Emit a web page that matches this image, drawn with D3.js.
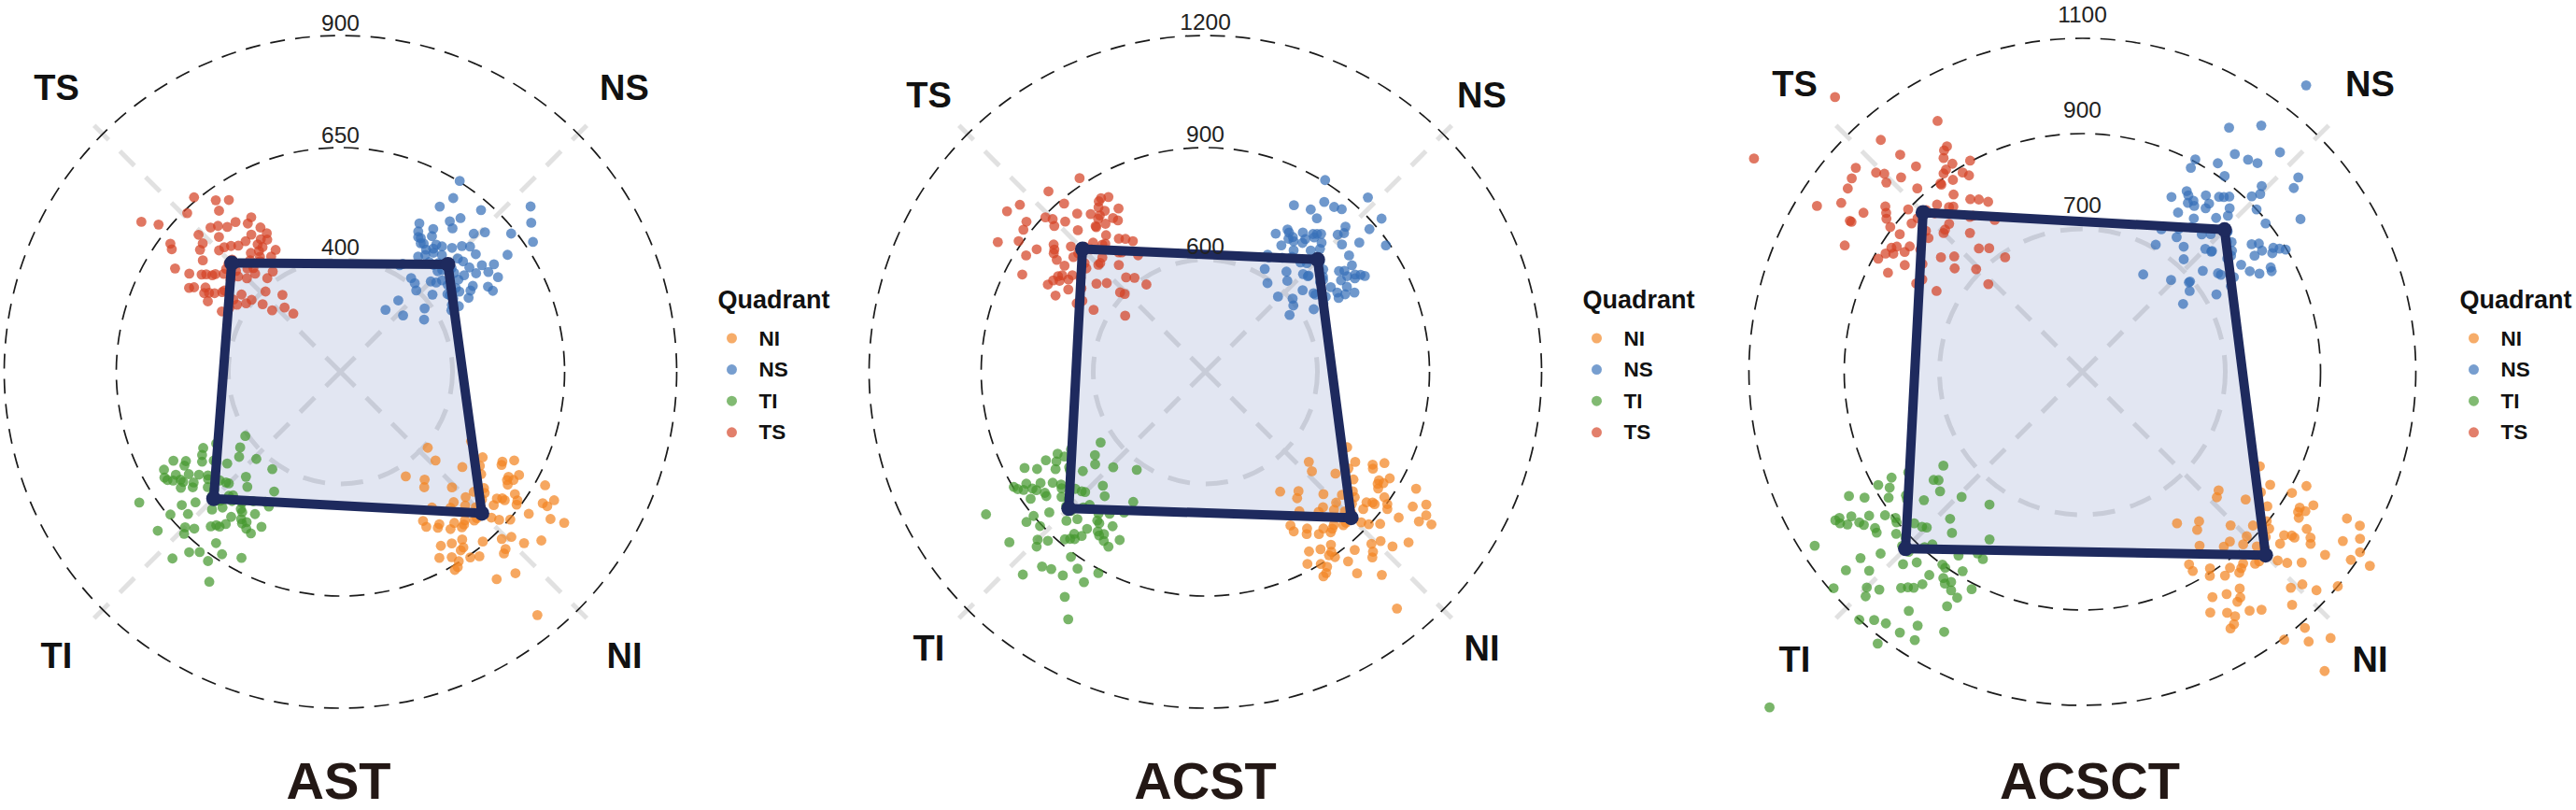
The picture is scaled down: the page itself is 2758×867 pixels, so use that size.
<!DOCTYPE html>
<html><head><meta charset="utf-8">
<script src="https://cdn.jsdelivr.net/npm/d3@7"></script>
<style>
html,body{margin:0;padding:0;background:#fff;}
svg{display:block;font-family:"Liberation Sans", Arial, Helvetica, sans-serif;}
</style></head><body>
<svg id="chart" width="2758" height="867"></svg>
<script>
// ---------- DATA ----------
const quadrants = ["NI", "NS", "TI", "TS"];
const panelTitles = ["AST", "ACST", "ACSCT"];
const legendTitle = "Quadrant";

const AST_ticks = [400, 650, 900];
const ACST_ticks = [600, 900, 1200];
const ACSCT_ticks = [700, 900, 1100];

// radial axis limits (centre value, outer value)
const AST_domain = [150, 900];
const ACST_domain = [300, 1200];
const ACSCT_domain = [400, 1100];

// polygon vertices (mean per quadrant), order NI, NS, TI, TS
const AST_means = [596, 489, 550, 493];
const ACST_means = [852, 725, 817, 765];
const ACSCT_means = [944, 822, 925, 873];

// individual points: [value, angular jitter in degrees]
const AST_TS = [[493,-3],[512,6],[468,-11],[530,2],[455,9],[501,-15],[478,13],[545,-6],[440,4],[520,-9],
[487,16],[462,-2],[558,10],[505,-13],[430,-7],[575,5],[498,1],[450,14],[536,-16],[482,8],
[470,-5],[515,12],[425,-12],[590,-1],[508,-8],[460,3],[548,15],[492,-14],[415,7],[565,-4],
[475,11],[528,-10],[445,0],[600,8],[485,-17],[522,4],[405,-6],[540,13],[497,-1],[458,17],
[615,-9],[470,6],[395,2],[552,-12],[510,9],[436,-15],[583,3],[489,12],[380,-4],[625,-8],
[466,-10],[518,16],[452,5],[570,-2],[504,-7],[420,11],[642,1],[481,-13],[365,8],[560,7],
[447,-18],[533,0],[495,14],[410,-9],[607,12],[474,-1],[355,-3],[658,5],[527,-15],[463,10],
[340,4],[672,-6],[500,17],[438,-11],[585,-13],[317,6],[706,-8],[623,9],[490,-5],[555,3]];
const AST_NS = [[489,2],[505,-8],[470,11],[522,-3],[458,6],[498,-14],[480,15],[540,-1],[445,9],[515,-11],
[492,13],[465,-6],[550,4],[508,-16],[435,0],[568,10],[495,-4],[452,16],[530,-12],[484,7],
[472,-9],[518,3],[428,-15],[585,-7],[502,12],[462,-1],[545,8],[488,-13],[418,5],[560,14],
[478,-2],[525,-17],[448,10],[598,1],[483,-10],[520,6],[408,-5],[535,17],[494,-8],[455,3],
[612,-12],[468,9],[398,-2],[548,11],[510,-6],[440,14],[580,-14],[486,4],[385,8],[628,-4],
[460,-11],[514,1],[450,12],[565,-9],[500,7],[422,-16],[640,6],[476,-3],[370,13],[556,-7],
[442,2],[530,15],[491,-12],[412,-8],[605,10],[471,0],[355,-6],[652,-13],[524,9],[466,-4],
[338,3],[668,11],[497,-15],[433,16],[578,-1],[321,-9],[712,4],[690,7],[487,-7],[552,1]];
const AST_TI = [[550,-1],[568,7],[532,-10],[585,3],[518,12],[558,-14],[540,9],[600,-5],[505,1],[575,-8],
[548,15],[522,-3],[612,5],[562,-16],[495,10],[628,-2],[553,-12],[510,14],[590,-6],[542,4],
[528,-9],[580,11],[485,-15],[640,0],[560,8],[515,-4],[605,13],[546,-11],[475,6],[620,-17],
[535,2],[588,-7],[500,16],[652,-1],[545,-13],[578,10],[465,-3],[595,12],[555,-8],[512,3],
[665,-10],[525,7],[455,-16],[608,14],[570,-2],[492,9],[635,-12],[548,1],[445,5],[675,-5],
[520,-14],[572,17],[502,0],[622,-9],[558,11],[480,-6],[690,4],[538,-18],[430,8],[615,2],
[498,-11],[583,13],[551,-4],[470,15],[660,-7],[530,6],[420,-1],[702,-13],[590,9],[515,-8],
[406,11],[710,-3],[556,14],[490,-17],[645,5],[415,-10],[685,12],[543,-2],[600,16],[526,-5]];
const AST_NI = [[596,2],[615,-7],[578,10],[634,-2],[560,13],[605,-13],[588,6],[652,-4],[545,0],[625,-10],
[598,15],[570,-5],[665,8],[610,-15],[535,4],[680,-1],[600,-11],[555,12],[642,-8],[590,7],
[575,-3],[630,11],[520,-14],[695,3],[612,9],[562,-6],[658,14],[593,-12],[508,1],[672,-16],
[582,5],[638,-9],[545,16],[710,-2],[592,-13],[628,10],[495,-7],[648,13],[603,-4],[558,2],
[722,-10],[572,8],[480,-17],[660,15],[618,-1],[540,6],[688,-12],[596,3],[468,9],[735,-5],
[565,-15],[620,17],[550,-3],[676,-8],[606,12],[525,-11],[745,4],[585,-18],[455,7],[668,1],
[538,-9],[632,14],[599,-6],[515,11],[706,-14],[577,0],[440,-2],[752,-11],[644,5],[563,-16],
[425,13],[729,8],[608,-7],[530,16],[690,2],[408,-4],[848,6],[700,-12],[655,10],[586,-1]];

const ACST_TS = [[765,-2],[788,8],[742,-11],[810,3],[725,12],[775,-14],[752,9],[830,-5],[705,1],[798,-8],
[768,15],[735,-3],[845,6],[782,-16],[690,10],[862,-1],[770,-12],[715,14],[820,-6],[758,4],
[740,-9],[805,11],[680,-15],[878,0],[785,8],[722,-4],[838,13],[762,-11],[668,6],[855,-17],
[748,2],[815,-7],[700,16],[895,-1],[760,-13],[800,10],[655,-3],[825,12],[772,-8],[712,3],
[910,-10],[735,7],[642,-16],[842,14],[792,-2],[695,9],[872,-12],[765,1],[630,5],[925,-5],
[728,-14],[795,17],[705,0],[858,-9],[778,11],[675,-6],[940,4],[750,-18],[615,8],[850,2],
[700,-11],[808,13],[768,-4],[660,15],[918,-7],[738,6],[600,-1],[955,-13],[822,9],[718,-8],
[582,11],[968,-3],[780,14],[690,-17],[888,5],[562,-10],[983,-6],[918,12],[612,-2],[835,16]];
const ACST_NS = [[725,1],[745,-8],[705,11],[765,-3],[690,7],[735,-14],[712,14],[782,-5],[675,2],[755,-10],
[728,16],[698,-2],[795,6],[740,-15],[660,10],[810,-1],[730,-12],[680,13],[775,-6],[718,4],
[702,-9],[760,9],[650,-16],[825,0],[748,8],[688,-4],[790,13],[722,-11],[640,5],[805,-17],
[710,3],[768,-7],[665,15],[840,-1],[720,-13],[758,11],[628,-3],[778,12],[732,-8],[678,2],
[855,-10],[700,7],[618,-15],[798,14],[750,-2],[658,9],[818,-12],[726,1],[605,5],[868,-5],
[695,-14],[752,17],[670,0],[808,-9],[738,11],[645,-6],[882,4],[715,-18],[595,8],[800,2],
[668,-11],[772,13],[730,-4],[635,15],[860,-7],[705,6],[580,-1],[905,-13],[785,9],[685,-8],
[572,11],[925,4],[938,-2],[742,14],[655,-17],[838,5],[590,-10],[890,10],[763,-6],[708,16]];
const ACST_TI = [[817,-1],[840,7],[795,-10],[862,3],[778,12],[828,-14],[805,9],[885,-5],[760,1],[850,-8],
[820,15],[788,-3],[900,5],[835,-16],[745,10],[918,-2],[822,-12],[765,14],[875,-6],[810,4],
[792,-9],[858,11],[735,-15],[935,0],[838,8],[772,-4],[892,13],[815,-11],[722,6],[910,-17],
[800,2],[868,-7],[752,16],[950,-1],[812,-13],[852,10],[710,-3],[880,12],[826,-8],[768,3],
[965,-10],[790,7],[698,-16],[898,14],[845,-2],[748,9],[928,-12],[818,1],[685,5],[980,-5],
[782,-14],[848,17],[755,0],[912,-9],[832,11],[728,-6],[995,4],[805,-18],[670,8],[905,2],
[758,-11],[865,13],[822,-4],[715,15],[970,-7],[795,6],[655,-1],[1010,-13],[878,9],[775,-8],
[638,11],[1030,-3],[950,-15],[1057,-16],[740,14],[925,5],[620,-10],[1000,12],[858,-6],[788,16]];
const ACST_NI = [[852,2],[875,-7],[830,10],[898,-2],[812,13],[862,-13],[840,6],[920,-4],[795,0],[885,-10],
[855,15],[822,-5],[935,8],[870,-15],[780,4],[952,-1],[858,-11],[800,12],[910,-8],[845,7],
[828,-3],[892,11],[768,-14],[968,3],[872,9],[808,-6],[928,14],[850,-12],[755,1],[945,-16],
[835,5],[902,-9],[788,16],[985,-2],[848,-13],[888,10],[742,-7],[915,13],[860,-4],[805,2],
[998,-10],[825,8],[730,-17],[932,15],[880,-1],[782,6],[962,-12],[852,3],[718,9],[1010,-5],
[818,-15],[882,17],[792,-3],[948,-8],[866,12],[762,-11],[1020,4],[838,-18],[705,7],[940,1],
[790,-9],[900,14],[855,-6],[750,11],[990,-14],[828,0],[690,-2],[1030,-11],[922,5],[812,-16],
[678,13],[975,8],[868,-7],[770,16],[958,2],[667,-4],[1115,6],[1005,-12],[905,10],[842,-1]];

const ACSCT_TS = [[873,-2],[895,8],[850,-11],[918,3],[832,12],[882,-14],[860,9],[940,-5],[815,1],[905,-8],
[876,15],[842,-3],[955,6],[890,-16],[800,10],[972,-1],[878,-12],[822,14],[930,-6],[865,4],
[848,-9],[912,11],[788,-15],[988,0],[892,8],[828,-4],[948,13],[870,-11],[775,6],[965,-17],
[855,2],[922,-7],[808,16],[1002,-1],[868,-13],[908,10],[762,-3],[935,12],[880,-8],[818,3],
[1018,-10],[840,7],[750,-16],[952,14],[900,-2],[802,9],[982,-12],[872,1],[738,5],[1032,-5],
[835,-14],[902,17],[812,0],[968,-9],[886,11],[782,-6],[1045,4],[858,-18],[725,8],[958,2],
[805,-11],[915,13],[875,-4],[768,15],[1025,-7],[845,6],[710,-1],[1057,-13],[978,-12],[826,-8],
[690,11],[1040,-3],[888,14],[795,-17],[995,5],[670,-2],[1176,3],[1222,-12],[1008,15],[745,-6]];
const ACSCT_NS = [[822,1],[842,-8],[802,11],[862,-3],[786,7],[832,-14],[810,14],[880,-5],[770,2],[852,-10],
[825,16],[795,-2],[895,6],[838,-15],[755,10],[912,-1],[828,-12],[775,13],[872,-6],[815,4],
[798,-9],[858,9],[742,-16],[928,0],[845,8],[782,-4],[888,13],[820,-11],[730,5],[905,-17],
[808,3],[866,-7],[760,15],[942,-1],[818,-13],[855,11],[718,-3],[878,12],[830,-8],[772,2],
[958,-10],[796,7],[708,-15],[898,14],[848,-2],[752,9],[922,-12],[824,1],[695,5],[972,-5],
[790,-14],[850,17],[765,0],[908,-9],[836,11],[738,-6],[988,4],[812,-18],[682,8],[900,2],
[762,-11],[870,13],[828,-4],[725,15],[965,-7],[804,6],[668,-1],[1010,3],[959,10],[780,-8],
[655,11],[1039,-9],[998,-14],[641,-13],[885,-17],[692,5],[1163,-7],[1020,-3],[852,16],[745,-10]];
const ACSCT_TI = [[925,-1],[948,7],[902,-10],[970,3],[885,12],[935,-14],[912,9],[992,-5],[868,1],[958,-8],
[928,15],[895,-3],[1008,5],[942,-16],[852,10],[1025,-2],[930,-12],[872,14],[982,-6],[918,4],
[900,-9],[965,11],[840,-15],[1040,0],[945,8],[880,-4],[1000,13],[922,-11],[828,6],[1018,-17],
[908,2],[975,-7],[858,16],[1055,-1],[920,-13],[960,10],[815,-3],[988,12],[934,-8],[875,3],
[1068,-10],[898,7],[802,-16],[1005,14],[952,-2],[855,9],[1035,-12],[926,1],[790,5],[1080,-5],
[888,-14],[955,17],[862,0],[1020,-9],[940,11],[835,-6],[1092,4],[912,-18],[778,8],[1012,2],
[865,-11],[972,13],[930,-4],[822,15],[1070,-7],[902,6],[765,-1],[1064,-13],[1114,-8],[1070,12],
[752,11],[1100,-3],[995,14],[845,-17],[1048,5],[740,-10],[1363,-2],[786,9],[968,-15],[890,16]];
const ACSCT_NI = [[944,2],[965,-7],[922,10],[988,-2],[905,13],[952,-13],[930,6],[1010,-4],[888,0],[975,-10],
[946,15],[912,-5],[1025,8],[960,-15],[872,4],[1042,-1],[948,-11],[892,12],[1000,-8],[935,7],
[918,-3],[982,11],[860,-14],[1058,3],[962,9],[898,-6],[1018,14],[940,-12],[848,1],[1035,-16],
[925,5],[992,-9],[878,16],[1072,-2],[938,-13],[978,10],[835,-7],[1005,13],[950,-4],[895,2],
[1088,-10],[915,8],[822,-17],[1022,15],[970,-1],[872,6],[1052,-12],[942,3],[810,9],[1100,-5],
[908,-15],[972,17],[882,-3],[1038,-8],[956,12],[852,-11],[1112,4],[928,-18],[798,7],[1030,1],
[880,-9],[990,14],[945,-6],[840,11],[1080,-14],[918,0],[786,-2],[1128,-11],[1139,5],[1066,-16],
[775,13],[1104,8],[958,-7],[862,16],[1164,2],[779,-4],[1208,6],[1095,-12],[1012,10],[932,-1]];

// ---------- STYLE / LAYOUT ----------
const colors = {NI:"#F28522", NS:"#3770B8", TI:"#45992F", TS:"#D44325"};
const quadAngle = {NS:45, NI:135, TI:225, TS:315}; // degrees clockwise from top
const polyOrder = ["TS","NS","NI","TI"];
const cy = 398;
const panels = [
  {title:panelTitles[0], cx:364.5, ticks:AST_ticks, domain:AST_domain, rmax:360, means:AST_means,
   pts:{NI:AST_NI, NS:AST_NS, TI:AST_TI, TS:AST_TS}, lab:304, tickGap:14, titleDx:-2},
  {title:panelTitles[1], cx:1290.5, ticks:ACST_ticks, domain:ACST_domain, rmax:360, means:ACST_means,
   pts:{NI:ACST_NI, NS:ACST_NS, TI:ACST_TI, TS:ACST_TS}, lab:296, tickGap:15, titleDx:0},
  {title:panelTitles[2], cx:2229.5, ticks:ACSCT_ticks, domain:ACSCT_domain, rmax:357, means:ACSCT_means,
   pts:{NI:ACSCT_NI, NS:ACSCT_NS, TI:ACSCT_TI, TS:ACSCT_TS}, lab:308, tickGap:26, titleDx:8}
];

const svg = d3.select("#chart");
const rad = d => d * Math.PI / 180;

panels.forEach(p => {
  const g = svg.append("g").attr("transform", `translate(${p.cx},${cy})`);
  const r = d3.scaleLinear().domain(p.domain).range([0, p.rmax]);
  const gridR = p.rmax + 25;

  // grey diagonal axes
  const gGrid = g.append("g");
  Object.keys(quadAngle).forEach(q => {
    const [x2, y2] = d3.pointRadial(rad(quadAngle[q]), gridR);
    gGrid.append("line").attr("x1", 0).attr("y1", 0).attr("x2", x2).attr("y2", y2)
      .attr("stroke", "#e1e1e1").attr("stroke-width", 5).attr("stroke-dasharray", "22,17");
  });
  // grey inner circle (first tick)
  gGrid.append("circle").attr("r", r(p.ticks[0])).attr("fill", "none")
    .attr("stroke", "#e1e1e1").attr("stroke-width", 5).attr("stroke-dasharray", "24,17");
  // black dashed circles
  p.ticks.slice(1).forEach(t => {
    g.append("circle").attr("r", r(t)).attr("fill", "none")
      .attr("stroke", "#1a1a1a").attr("stroke-width", 1.7).attr("stroke-dasharray", "16,11");
  });

  // polygon
  const meanOf = q => p.means[quadrants.indexOf(q)];
  const line = d3.lineRadial().angle(q => rad(quadAngle[q])).radius(q => r(meanOf(q))).curve(d3.curveLinearClosed);
  g.append("path").attr("d", line(polyOrder)).attr("fill", "#3c5aa6").attr("fill-opacity", 0.15).attr("stroke", "none");

  // points
  quadrants.forEach(q => {
    g.append("g").selectAll("circle").data(p.pts[q]).join("circle")
      .attr("cx", d => d3.pointRadial(rad(quadAngle[q] + d[1]), r(d[0]))[0])
      .attr("cy", d => d3.pointRadial(rad(quadAngle[q] + d[1]), r(d[0]))[1])
      .attr("r", 5.4).attr("fill", colors[q]).attr("fill-opacity", 0.72);
  });

  // polygon outline + vertices
  g.append("path").attr("d", line(polyOrder)).attr("fill", "none")
    .attr("stroke", "#1e2a5e").attr("stroke-width", 10).attr("stroke-linejoin", "round");
  g.append("g").selectAll("circle").data(polyOrder).join("circle")
    .attr("cx", q => d3.pointRadial(rad(quadAngle[q]), r(meanOf(q)))[0])
    .attr("cy", q => d3.pointRadial(rad(quadAngle[q]), r(meanOf(q)))[1])
    .attr("r", 8).attr("fill", "#1e2a5e");

  // tick labels
  p.ticks.forEach(t => {
    g.append("text").attr("x", 0).attr("y", -r(t) - p.tickGap)
      .attr("text-anchor", "middle").attr("dominant-baseline", "central")
      .attr("font-size", 24.5).attr("fill", "#222").text(t);
  });

  // quadrant labels
  const labPos = {TS:[-1,-1], NS:[1,-1], TI:[-1,1], NI:[1,1]};
  Object.keys(labPos).forEach(q => {
    g.append("text").attr("x", labPos[q][0] * p.lab).attr("y", labPos[q][1] * p.lab)
      .attr("text-anchor", "middle").attr("dominant-baseline", "central")
      .attr("font-size", 38).attr("font-weight", "bold").attr("fill", "#111").text(q);
  });

  // title
  svg.append("text").attr("x", p.cx + p.titleDx).attr("y", 855)
    .attr("text-anchor", "middle").attr("font-size", 56).attr("font-weight", "bold")
    .attr("fill", "#231815").text(p.title);

  // legend
  const lg = svg.append("g").attr("transform", `translate(${p.cx + 404},0)`);
  lg.append("text").attr("x", 0).attr("y", 330).attr("font-size", 27).attr("font-weight", "bold")
    .attr("fill", "#111").text(legendTitle);
  quadrants.forEach((q, i) => {
    const y = 362 + i * 33.6;
    lg.append("circle").attr("cx", 15).attr("cy", y).attr("r", 5.5)
      .attr("fill", colors[q]).attr("fill-opacity", 0.68);
    lg.append("text").attr("x", 44).attr("y", y).attr("dominant-baseline", "central")
      .attr("font-size", 22.5).attr("font-weight", "bold").attr("fill", "#111").text(q);
  });
});
</script>
</body></html>
